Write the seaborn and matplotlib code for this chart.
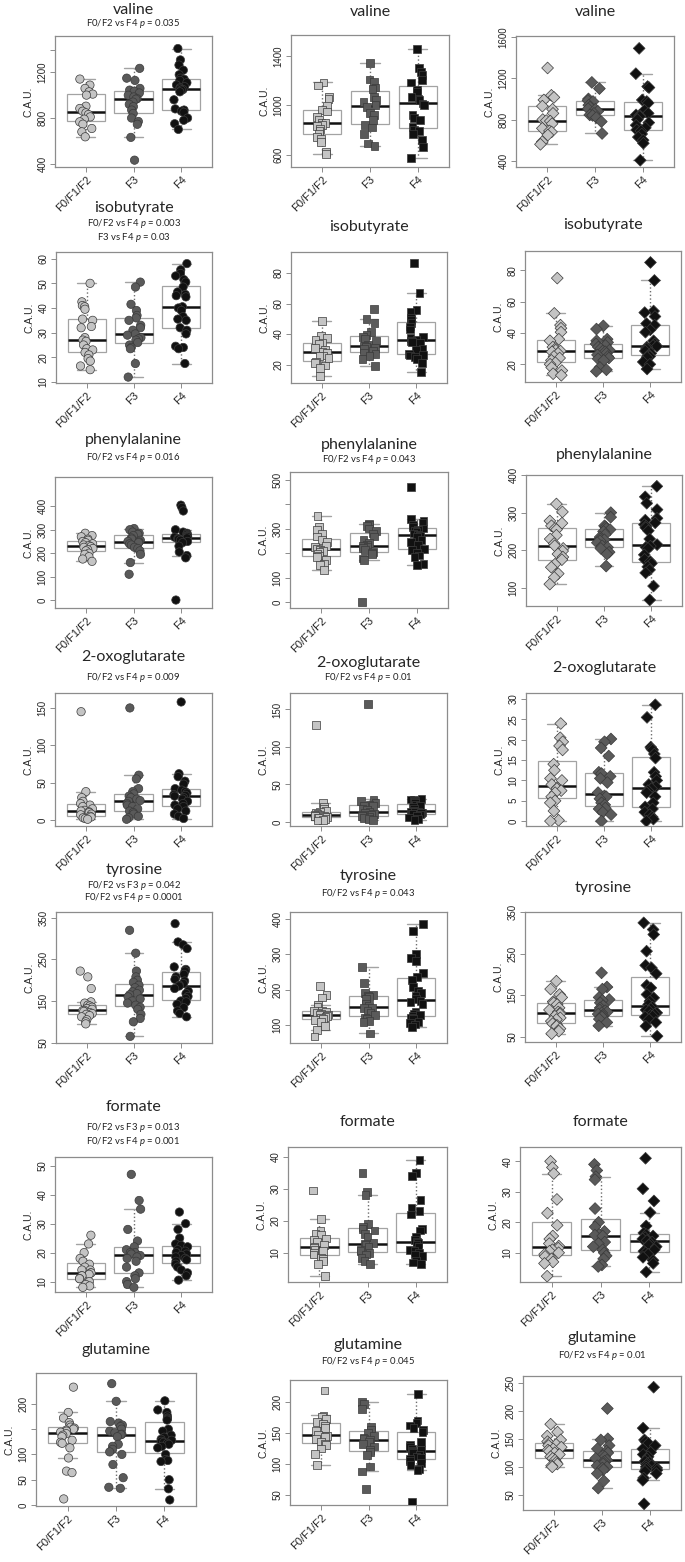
import numpy as np
import pandas as pd
import matplotlib
matplotlib.use("Agg")
import matplotlib.pyplot as plt
import seaborn as sns

# ---- groups and colours ----
groups = ["F0/F1/F2", "F3", "F4"]
group_colors = {"F0/F1/F2": "#c4c4c4", "F3": "#5a5a5a", "F4": "#111111"}
col_markers = ["o", "s", "D"]

# ---- values (C.A.U.), each tuple = (F0/F1/F2, F3, F4) ----
valine_1 = (
    [1142, 1089, 1060, 1030, 1010, 1001, 904, 884, 860, 846, 831, 810, 790, 767, 746, 708, 679, 635],
    [1236, 1150, 1130, 1060, 1045, 1035, 1020, 1000, 985, 970, 965, 940, 920, 900, 870, 840, 800, 770, 745, 630, 430],
    [1410, 1310, 1265, 1220, 1180, 1150, 1140, 1130, 1110, 1090, 1075, 1065, 1055, 1050, 1045, 1030, 960, 880, 870, 860, 850, 800, 780, 750, 700],
)
valine_2 = (
    [1185, 1160, 1070, 1050, 995, 965, 950, 905, 885, 860, 855, 840, 830, 810, 790, 770, 745, 730, 705, 620, 605],
    [1340, 1210, 1190, 1145, 1130, 1070, 1045, 1030, 1000, 985, 940, 920, 880, 840, 820, 770, 690, 670],
    [1455, 1300, 1270, 1245, 1205, 1185, 1125, 1110, 1070, 1055, 1040, 1015, 1005, 920, 895, 880, 825, 800, 790, 770, 720, 660, 575],
)
valine_3 = (
    [1300, 1035, 1015, 990, 930, 900, 860, 800, 790, 785, 760, 715, 690, 680, 650, 585, 560],
    [1160, 1100, 1000, 985, 975, 940, 920, 905, 900, 880, 860, 845, 840, 820, 780, 665],
    [1490, 1245, 1120, 1110, 990, 975, 960, 890, 860, 845, 840, 830, 800, 770, 745, 720, 700, 690, 660, 630, 600, 570, 405],
)
isobutyrate_1 = (
    [50, 42.5, 41, 40.5, 39.5, 35.5, 35, 32.5, 32, 28, 27, 26.5, 25, 23.5, 23, 22, 21, 19.5, 18.5, 16.5, 15],
    [50.5, 48.5, 41.5, 39, 37, 36, 35, 33, 32, 31, 29.5, 29, 28, 27.5, 27, 26, 25, 24, 23.5, 17.5, 12],
    [58, 55.5, 54, 53, 51.5, 50.5, 48.5, 46.5, 45.5, 45, 44.5, 40.5, 40, 39, 36.5, 35.5, 35, 32, 31, 29.5, 24.5, 24, 23.5, 17.5],
)
isobutyrate_2 = (
    [48.5, 38.5, 37.5, 36, 34.5, 33.5, 31, 29.5, 28.5, 28, 26, 25.5, 24.5, 22, 21, 19.5, 18, 12.5],
    [56.5, 50, 47, 41.5, 39.5, 38, 37, 35.5, 33, 32, 31.5, 31, 30, 29, 28, 27, 25.5, 23.5, 19],
    [86.5, 67, 56, 54.5, 50.5, 49, 47.5, 45, 43, 38, 37.5, 36.5, 35.5, 35, 34, 30, 29.5, 27, 26.5, 26, 25, 23.5, 21, 15],
)
isobutyrate_3 = (
    [75, 52.5, 45, 43, 40.5, 36, 35, 31, 30, 29, 28.5, 28, 27, 25, 24, 22.5, 21, 20, 18, 16, 14, 13],
    [44.5, 42.5, 36, 35, 34, 33, 32, 31, 30, 29, 28.5, 28, 27, 26, 25, 24, 23.5, 22.5, 18, 16.5, 15.5],
    [85, 73.5, 54, 53, 50.5, 46, 45, 42, 40.5, 35, 33, 32, 31.5, 31, 30, 28.5, 27, 26, 25.5, 25, 24.5, 21.5, 20, 17],
)
phenylalanine_1 = (
    [285, 275, 270, 260, 255, 250, 245, 240, 235, 232, 228, 225, 220, 215, 210, 200, 195, 185, 175, 165],
    [305, 300, 290, 285, 280, 275, 265, 260, 255, 250, 248, 245, 240, 235, 225, 220, 210, 195, 160, 110],
    [405, 395, 380, 300, 290, 285, 280, 275, 272, 270, 268, 265, 262, 260, 255, 250, 245, 230, 205, 190, 180, 0],
)
phenylalanine_2 = (
    [350, 305, 295, 280, 268, 255, 245, 230, 225, 218, 213, 210, 205, 195, 190, 185, 172, 155, 150, 132],
    [320, 315, 310, 300, 290, 280, 268, 255, 240, 232, 228, 225, 220, 212, 205, 200, 195, 178, 172, 0],
    [470, 340, 330, 325, 315, 305, 300, 295, 290, 285, 280, 276, 272, 265, 255, 245, 232, 218, 212, 200, 190, 185, 155, 150],
)
phenylalanine_3 = (
    [323, 302, 278, 272, 265, 258, 255, 240, 230, 218, 212, 205, 198, 190, 182, 175, 163, 155, 138, 128, 110],
    [300, 288, 265, 262, 258, 255, 250, 242, 235, 230, 228, 225, 220, 212, 208, 205, 195, 190, 158],
    [370, 342, 325, 308, 285, 280, 273, 268, 264, 260, 252, 230, 215, 211, 208, 205, 188, 176, 170, 165, 156, 148, 140, 105, 68],
)
oxoglutarate_1 = (
    [145, 38, 30, 25, 22, 20, 18, 15, 13, 12, 11, 10, 8, 7, 5, 4, 3, 2, 1],
    [150, 60, 55, 42, 38, 35, 32, 30, 28, 26, 25, 22, 20, 18, 15, 12, 10, 8, 5, 3, 1],
    [158, 62, 58, 52, 48, 42, 40, 38, 36, 34, 33, 32, 30, 28, 25, 22, 20, 18, 15, 12, 8, 5, 2],
)
oxoglutarate_2 = (
    [129, 25, 20, 18, 15, 13.5, 12, 11, 10, 9, 8.5, 8, 7.5, 7, 6.5, 6, 5, 4, 3, 2],
    [157, 30, 28, 25, 23, 22, 21, 18, 16, 14, 12, 11, 10, 9, 8, 7.5, 7, 5, 4, 3],
    [31, 30, 29, 28, 27, 25, 23, 22, 20, 18, 15, 14, 13.5, 13, 12.5, 12, 11, 10.5, 10, 8, 6, 4, 3],
)
oxoglutarate_3 = (
    [24, 20.5, 19.5, 18.5, 17.5, 14, 12.5, 10.5, 10, 9, 8.2, 8, 7.5, 7, 6, 5, 4.5, 2.5, 0.2, 0],
    [20.2, 19.5, 18, 16, 12, 11.7, 11, 10.5, 9.5, 7, 6.2, 6, 5.5, 4.5, 4, 3.2, 3, 2.2, 1.6, 0],
    [28.6, 25.5, 18.2, 17.8, 17.5, 16.5, 15.5, 12, 11, 10, 9, 8.5, 8, 7.5, 7, 6, 4.5, 3.5, 3, 2.2, 1.6, 1, 0.5, 0],
)
tyrosine_1 = (
    [222, 208, 180, 148, 145, 140, 138, 135, 132, 130, 128, 127, 125, 122, 120, 118, 115, 112, 105, 100, 95],
    [320, 265, 222, 208, 200, 195, 188, 182, 176, 172, 168, 165, 160, 155, 150, 145, 140, 135, 130, 118, 108, 100, 65],
    [336, 292, 285, 276, 232, 226, 222, 214, 208, 202, 198, 192, 188, 186, 180, 174, 168, 161, 156, 150, 148, 142, 134, 126, 120, 112],
)
tyrosine_2 = (
    [210, 185, 178, 156, 152, 141, 140, 138, 135, 132, 130, 128, 126, 124, 120, 117, 115, 110, 98, 86, 68],
    [264, 220, 190, 186, 184, 180, 175, 160, 155, 150, 148, 140, 135, 128, 122, 118, 112, 110, 77],
    [386, 365, 300, 290, 280, 247, 236, 228, 208, 198, 190, 184, 175, 168, 165, 160, 137, 133, 128, 125, 122, 118, 110, 106, 102, 95],
)
tyrosine_3 = (
    [184, 165, 152, 145, 135, 132, 128, 120, 115, 110, 108, 105, 100, 96, 92, 88, 82, 78, 76, 70, 64, 58],
    [204, 170, 165, 145, 140, 138, 132, 125, 120, 115, 113, 110, 108, 105, 102, 100, 98, 93, 85, 77],
    [324, 308, 296, 256, 222, 216, 202, 174, 168, 152, 144, 136, 128, 122, 118, 115, 112, 108, 105, 102, 100, 98, 92, 85, 76, 52],
)
formate_1 = (
    [26, 23, 20, 18, 17, 16, 15, 14, 14, 13, 13, 12.5, 12, 12, 11, 11, 10, 9, 8.5, 8],
    [47, 38, 35, 28, 24, 22, 21, 20, 20, 19.5, 19, 18.5, 18, 17, 15, 13, 12, 11, 10, 9, 8],
    [34, 30, 28, 25, 23, 22.5, 22, 21, 20.5, 20, 19.5, 19, 18.5, 18, 17.5, 17, 16, 15, 14, 13, 12, 10.5],
)
formate_2 = (
    [29.5, 20.5, 17, 16, 15.5, 14.5, 14, 13.5, 12.5, 12, 11.5, 11, 10.5, 10, 9.5, 8.5, 8, 7.5, 6.5, 2.7],
    [35, 29, 28, 19, 18, 17.5, 17, 16, 15, 13, 12.7, 12.5, 12, 11, 10.5, 10, 9.5, 8.5, 7.5, 6.5],
    [39, 35, 34, 26.5, 24, 23, 22, 17.5, 17, 15, 14, 13.5, 13, 12.5, 12, 11, 10.5, 10, 9.5, 9, 7.5, 7, 6.5],
)
formate_3 = (
    [40, 38, 36, 27.5, 23, 19, 15.5, 14.5, 13, 12.2, 11.5, 11, 10.5, 10, 9.5, 8.8, 8, 7, 6.5, 2.3],
    [39, 37, 35, 34, 24.5, 20, 18.5, 17, 16, 15.8, 15.5, 13.5, 13, 12, 11, 10, 9, 8, 6, 5.5],
    [41, 31, 27, 23.2, 18.8, 16.5, 16, 15.5, 15, 14.5, 14, 14, 13.5, 13, 12.5, 12, 11, 10.5, 10, 9.5, 8.5, 7.5, 6.5, 3.7],
)
glutamine_1 = (
    [233, 183, 172, 163, 158, 154, 152, 150, 148, 146, 144, 141, 138, 135, 128, 124, 122, 113, 93, 67, 64, 12],
    [240, 205, 165, 162, 158, 155, 150, 146, 143, 140, 139, 135, 120, 116, 110, 105, 100, 80, 54, 35, 33],
    [206, 188, 183, 176, 172, 170, 168, 150, 146, 138, 134, 130, 128, 126, 124, 122, 120, 116, 113, 100, 90, 88, 86, 50, 32, 10],
)
glutamine_2 = (
    [218, 178, 175, 172, 168, 165, 162, 158, 153, 146, 145, 143, 140, 136, 133, 130, 125, 116, 98],
    [200, 197, 188, 160, 155, 150, 145, 142, 140, 138, 135, 132, 128, 122, 119, 115, 96, 88, 60],
    [212, 170, 166, 162, 158, 155, 152, 135, 130, 127, 124, 122, 121, 120, 118, 115, 112, 110, 108, 105, 102, 98, 92, 90, 39],
)
glutamine_3 = (
    [176, 162, 155, 148, 145, 142, 140, 138, 135, 132, 130, 128, 125, 122, 118, 115, 112, 108, 105, 102, 100],
    [204, 150, 148, 138, 132, 128, 125, 120, 118, 115, 112, 110, 108, 105, 102, 100, 98, 95, 88, 75, 62],
    [242, 169, 148, 145, 142, 138, 132, 126, 122, 118, 114, 110, 108, 106, 104, 102, 100, 98, 96, 94, 92, 88, 80, 76, 34],
)

# ---- panel layout: data, title, subtitle lines, col, axes box in px (l, t, r, b),
#      title y px, subtitle y px, ylim, yticks, hidden tick labels ----
W, H = 685, 1562
panels = [
    (valine_1, "valine", ["F0/F2 vs F4 $\\it{p}$ = 0.035"], 0, (55, 36, 212, 167), 10, 23, (370, 1520), [400, 800, 1200, 1400], [1400]),
    (valine_2, "valine", [], 1, (291, 35, 449, 167), 12, 0, (500, 1570), [600, 1000, 1400], []),
    (valine_3, "valine", [], 2, (516, 36, 674, 167), 12, 0, (340, 1610), [400, 800, 1200, 1600], []),
    (isobutyrate_1, "isobutyrate", ["F0/F2 vs F4 $\\it{p}$ = 0.003", "F3 vs F4 $\\it{p}$ = 0.03"], 0, (56, 252, 212, 383), 208, 224, (9.6, 62.7), [10, 20, 30, 40, 50, 60], []),
    (isobutyrate_2, "isobutyrate", [], 1, (291, 252, 447, 383), 227, 0, (8, 93.7), [20, 40, 60, 80], []),
    (isobutyrate_3, "isobutyrate", [], 2, (525, 251, 681, 382), 225, 0, (8.7, 92.3), [20, 40, 60, 80], []),
    (phenylalanine_1, "phenylalanine", ["F0/F2 vs F4 $\\it{p}$ = 0.016"], 0, (55, 477, 212, 608), 440, 458, (-34, 525), [0, 100, 200, 300, 400], []),
    (phenylalanine_2, "phenylalanine", ["F0/F2 vs F4 $\\it{p}$ = 0.043"], 1, (290, 472, 448, 608), 445, 460, (-24, 531), [0, 100, 200, 300, 400, 500], [200, 400]),
    (phenylalanine_3, "phenylalanine", [], 2, (526, 475, 682, 606), 455, 0, (52, 400), [100, 200, 300, 400], []),
    (oxoglutarate_1, "2-oxoglutarate", ["F0/F2 vs F4 $\\it{p}$ = 0.009"], 0, (55, 693, 212, 826), 657, 677, (-8, 170), [0, 50, 100, 150], []),
    (oxoglutarate_2, "2-oxoglutarate", ["F0/F2 vs F4 $\\it{p}$ = 0.01"], 1, (290, 693, 447, 826), 663, 678, (-5.4, 172), [0, 50, 100, 150], []),
    (oxoglutarate_3, "2-oxoglutarate", [], 2, (526, 693, 682, 826), 668, 0, (-1.2, 31.5), [0, 5, 10, 15, 20, 25, 30], []),
    (tyrosine_1, "tyrosine", ["F0/F2 vs F3 $\\it{p}$ = 0.042", "F0/F2 vs F4 $\\it{p}$ = 0.0001"], 0, (56, 912, 212, 1043), 870, 885, (49, 364), [50, 150, 250, 350], []),
    (tyrosine_2, "tyrosine", ["F0/F2 vs F4 $\\it{p}$ = 0.043"], 1, (290, 912, 447, 1043), 876, 894, (50, 419), [100, 200, 300, 400], []),
    (tyrosine_3, "tyrosine", [], 2, (525, 912, 681, 1042), 888, 0, (38, 350), [50, 150, 250, 350], []),
    (formate_1, "formate", ["F0/F2 vs F3 $\\it{p}$ = 0.013", "F0/F2 vs F4 $\\it{p}$ = 0.001"], 0, (55, 1157, 212, 1292), 1107, 1128, (6.4, 53), [10, 20, 30, 40, 50], []),
    (formate_2, "formate", [], 1, (288, 1147, 447, 1282), 1122, 0, (0.9, 43.1), [10, 20, 30, 40], []),
    (formate_3, "formate", [], 2, (520, 1147, 681, 1282), 1122, 0, (0.4, 44.7), [10, 20, 30, 40], []),
    (glutamine_1, "glutamine", [], 0, (36, 1373, 196, 1506), 1350, 0, (-2, 261), [0, 50, 100, 150, 200], [150]),
    (glutamine_2, "glutamine", ["F0/F2 vs F4 $\\it{p}$ = 0.045"], 1, (290, 1380, 447, 1505), 1345, 1361, (34, 235), [50, 100, 150, 200], []),
    (glutamine_3, "glutamine", ["F0/F2 vs F4 $\\it{p}$ = 0.01"], 2, (523, 1376, 681, 1510), 1338, 1355, (23, 262), [50, 100, 150, 200, 250], []),
]

sns.set_style("white")
plt.rcParams["font.family"] = ["Liberation Sans", "DejaVu Sans"]
plt.rcParams["mathtext.fontset"] = "custom"
plt.rcParams["mathtext.it"] = "Lato:italic"
plt.rcParams["mathtext.rm"] = "Lato"

fig = plt.figure(figsize=(W / 100, H / 100), dpi=100)
np.random.seed(7)  # jitter reproducible

for data, title, subs, col, box, ty, sy, ylim, yticks, hidden in panels:
    l, t, r, b = box
    ax = fig.add_axes([l / W, 1 - b / H, (r - l) / W, (b - t) / H])
    df = pd.DataFrame({
        "group": np.repeat(groups, [len(v) for v in data]),
        "value": np.concatenate([np.asarray(v, dtype=float) for v in data]),
    })

    sns.boxplot(data=df, x="group", y="value", order=groups, ax=ax,
                width=0.8, showfliers=False, color="white",
                linecolor="#a3a3a3", linewidth=0.9,
                whiskerprops=dict(linestyle=":", color="#6e6e6e", linewidth=1.0),
                capprops=dict(color="#a3a3a3", linewidth=1.0),
                medianprops=dict(color="#111111", linewidth=1.8))
    sns.stripplot(data=df, x="group", y="value", order=groups, hue="group",
                  palette=group_colors, marker=col_markers[col],
                  size=6.0 if col != 1 else 5.6, edgecolor="#3a3a3a", linewidth=0.5,
                  jitter=0.15, legend=False, ax=ax, zorder=3)

    ax.set_xlim(-0.65, 2.65)
    ax.set_ylim(*ylim)
    ax.set_xlabel("")
    ax.set_ylabel("C.A.U.", fontsize=7.5, labelpad=3)
    ax.set_yticks(yticks)
    ax.set_yticklabels(["" if v in hidden else str(v) for v in yticks],
                       rotation=90, va="center", fontsize=7)
    ax.set_xticks(range(3))
    ax.set_xticklabels(groups, rotation=45, ha="right", rotation_mode="anchor", fontsize=8)
    ax.tick_params(axis="both", length=3.5, width=0.7, color="#8c8c8c", pad=2,
                   left=True, bottom=True)
    for sp in ax.spines.values():
        sp.set_color("#8c8c8c")
        sp.set_linewidth(0.9)

    cx = (l + r) / 2 / W
    fig.text(cx, 1 - ty / H, title, ha="center", va="center", fontsize=11.5, family="Lato")
    for k, s in enumerate(subs):
        fig.text(cx, 1 - (sy + 13 * k) / H, s, ha="center", va="center",
                 fontsize=6.8, family="Lato", color="#222222")

fig.savefig("out.png", dpi=100)
